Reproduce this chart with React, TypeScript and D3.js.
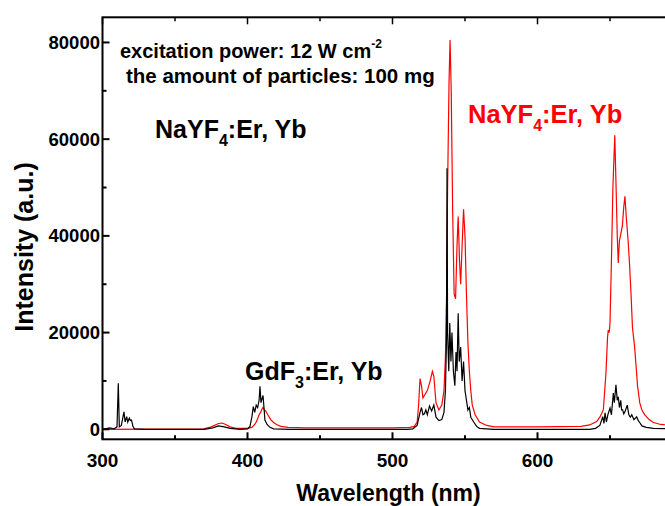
import React from "react";
import * as d3 from "d3";

const W = 665;
const H = 506;

const xTicks = [300, 400, 500, 600, 700];
const xTickLabels = ["300", "400", "500", "600", ""];
const xMinor = [350, 450, 550, 650];
const yTicks = [0, 20000, 40000, 60000, 80000];
const yMinor = [10000, 30000, 50000, 70000];

// GdF3:Er,Yb (black)
const blackNm = [300, 305, 308, 310, 310.9, 311.6, 313, 314.8, 315.6, 316.7, 317.4, 318.5, 319.2, 320, 321, 322, 330, 370, 376, 380, 384, 388, 395, 400, 401.7, 403, 404, 405, 406, 407, 408, 408.6, 409.3, 410.7, 411.5, 412, 413.5, 415.5, 418, 430, 510, 514, 517, 519, 520, 521, 522, 523, 524, 525.5, 527, 528.5, 530, 532, 534, 535.5, 536.5, 537.2, 537.6, 538, 538.8, 539.5, 540.3, 541, 542, 543, 543.8, 544.5, 545.3, 546, 547, 548, 549, 550, 551, 552, 553, 554, 556, 558, 560, 570, 636, 640, 643, 645, 645.8, 646.6, 647.5, 648.5, 650, 651, 652.3, 653, 654.1, 655, 655.7, 656.5, 657.4, 658, 658.7, 659.5, 660.5, 661.9, 663, 664, 665, 666.5, 668.4, 669.5, 670.7, 672, 675, 680, 690, 700];
const blackVal = [0, 300, 100, 500, 9500, 500, 800, 3600, 1500, 2600, 1500, 2300, 1800, 1900, 600, 100, 0, 0, 300, 700, 500, 200, 0, 100, 600, 2500, 4700, 3500, 5000, 4500, 6000, 8900, 5500, 7000, 4000, 1900, 1000, 400, 100, 0, 0, 100, 800, 3500, 4500, 3000, 3200, 4000, 3000, 4800, 3800, 5000, 2500, 1800, 2000, 3500, 8000, 18000, 54000, 20000, 12000, 22000, 14000, 20000, 12000, 9000, 16000, 12000, 24000, 14000, 17000, 10000, 14000, 8000, 6000, 4000, 4500, 2500, 1500, 600, 200, 0, 0, 200, 800, 2600, 1200, 3400, 1500, 3000, 4400, 3000, 7500, 5500, 9200, 6000, 6700, 4500, 6000, 4000, 4000, 3200, 3800, 5000, 3000, 2500, 3000, 2000, 2600, 1800, 1300, 700, 400, 200, 100, 100];

// NaYF4:Er,Yb (red)
const redNm = [300, 370, 375, 380, 382.5, 385, 388, 392, 400, 403, 405, 406, 407, 408, 409, 410, 410.7, 411.5, 412.5, 414, 416, 418, 420, 423, 428, 440, 500, 512, 515, 517, 518, 519, 520, 521, 522, 524, 526, 527.5, 528.5, 530, 532, 534, 535.5, 536.5, 537.3, 538, 539, 539.7, 540.5, 541.5, 542.5, 543.5, 544.5, 545.3, 546.2, 547, 548, 549, 550, 551, 552, 553, 554, 555, 557, 560, 565, 570, 600, 630, 636, 640.8, 643, 645.4, 647.2, 648.3, 648.8, 649.5, 650, 651, 652, 653.3, 654.2, 655, 655.7, 656.5, 657.6, 658.5, 659.5, 660.3, 661.2, 662.5, 663.5, 664.5, 665.5, 667, 668, 669, 670.5, 672, 674, 677, 680, 685, 690, 700];
const redVal = [0, 100, 500, 1200, 1300, 1000, 500, 200, 200, 400, 1000, 1500, 2200, 3000, 3500, 4200, 4500, 4000, 3800, 3000, 2000, 1400, 1000, 600, 400, 300, 300, 400, 600, 1500, 5000, 10500, 9000, 6500, 7000, 8000, 10000, 12000, 11000, 5500, 4000, 5000, 8000, 15000, 28000, 50000, 72000, 80500, 70000, 45000, 28000, 27000, 38000, 44000, 35000, 30000, 38000, 45500, 40000, 28000, 18000, 12000, 8000, 5000, 3000, 1500, 800, 500, 500, 600, 900, 1600, 2500, 4000, 11600, 19000, 20500, 20000, 22000, 35000, 50000, 60800, 50000, 40000, 34400, 39000, 40600, 42000, 46000, 48200, 44000, 39000, 34000, 28000, 21000, 17000, 13000, 9000, 5500, 4000, 3000, 2000, 1400, 1000, 900, 800];

const FONT = "'Liberation Sans', Arial, sans-serif";

export default function App() {
  const left = 102.5, right = 682.5, top = 17.3, bottom = 439.3;
  const x = d3.scaleLinear().domain([300, 700]).range([left, right]);
  const y = d3.scaleLinear().domain([-2070, 85200]).range([bottom, top]);

  const line = d3.line<[number, number]>().x((d) => x(d[0])).y((d) => y(d[1]));
  const black = blackNm.map((n, i) => [n, blackVal[i]] as [number, number]);
  const red = redNm.map((n, i) => [n, redVal[i]] as [number, number]);

  return (
    <svg width={W} height={H} style={{ position: "absolute", left: 0, top: 0, background: "#fff" }} fontFamily={FONT} fontWeight="bold">
      <defs>
        <clipPath id="plot">
          <rect x={left} y={top} width={right - left} height={bottom - top} />
        </clipPath>
      </defs>
      <g clipPath="url(#plot)" fill="none" strokeWidth={1.2}>
        <path d={line(red) || ""} stroke="#ff0000" />
        <path d={line(black) || ""} stroke="#000" />
      </g>
      {/* frame */}
      <rect x={left} y={top} width={right - left} height={bottom - top} fill="none" stroke="#000" strokeWidth={2} />
      {/* x ticks */}
      {xTicks.map((t, i) => (
        <g key={"xt" + t}>
          <line x1={x(t)} x2={x(t)} y1={bottom} y2={bottom - 7} stroke="#000" strokeWidth={2} />
          <line x1={x(t)} x2={x(t)} y1={top} y2={top + 7} stroke="#000" strokeWidth={1.5} />
          <text x={x(t)} y={467} textAnchor="middle" fontSize={19}>{xTickLabels[i]}</text>
        </g>
      ))}
      {xMinor.map((t) => (
        <g key={"xm" + t}>
          <line x1={x(t)} x2={x(t)} y1={bottom} y2={bottom - 4} stroke="#000" strokeWidth={2} />
          <line x1={x(t)} x2={x(t)} y1={top} y2={top + 4} stroke="#000" strokeWidth={1.5} />
        </g>
      ))}
      {yTicks.map((t) => (
        <g key={"yt" + t}>
          <line x1={left} x2={left + 7} y1={y(t)} y2={y(t)} stroke="#000" strokeWidth={2} />
          <text x={100} y={y(t) + 6.5} textAnchor="end" fontSize={18.5}>{t}</text>
        </g>
      ))}
      {yMinor.map((t) => (
        <line key={"ym" + t} x1={left} x2={left + 4} y1={y(t)} y2={y(t)} stroke="#000" strokeWidth={2} />
      ))}
      {/* axis titles */}
      <text x={388.5} y={500.5} textAnchor="middle" fontSize={23}>Wavelength (nm)</text>
      <text transform="translate(33, 247) rotate(-90)" textAnchor="middle" fontSize={25}>Intensity (a.u.)</text>
      {/* annotations */}
      <text x={120} y={58} fontSize={20}>
        excitation power: 12 W cm<tspan dy={-10} fontSize={12}>-2</tspan>
      </text>
      <text x={126} y={83} fontSize={20.5}>the amount of particles: 100 mg</text>
      <text x={155} y={138} fontSize={25}>
        NaYF<tspan dy={8} fontSize={16}>4</tspan><tspan dy={-8}>:Er, Yb</tspan>
      </text>
      <text x={468} y={123} fontSize={25.5} fill="#ff0000">
        NaYF<tspan dy={8} fontSize={16}>4</tspan><tspan dy={-8}>:Er, Yb</tspan>
      </text>
      <text x={245} y={380} fontSize={25}>
        GdF<tspan dy={8} fontSize={16}>3</tspan><tspan dy={-8}>:Er, Yb</tspan>
      </text>
    </svg>
  );
}
